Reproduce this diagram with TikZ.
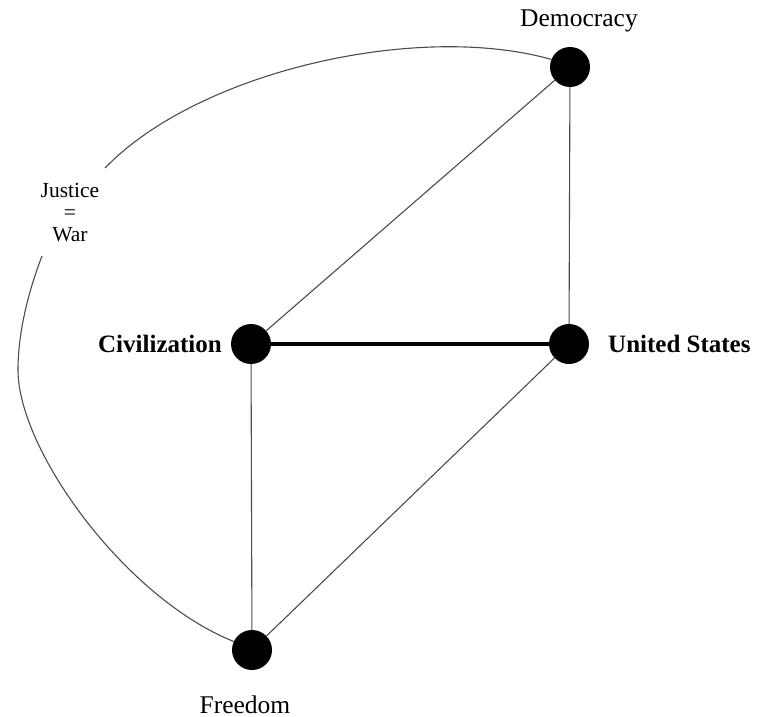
\documentclass[tikz,border=0pt]{standalone}
\usepackage{fontspec}
\setmainfont{Liberation Serif}
\begin{document}
\begin{tikzpicture}[x=1pt,y=-1pt,
  dot/.style={circle,fill=black,inner sep=0pt,minimum size=40pt},
  thin edge/.style={draw=black!70,line width=1.1pt},
  thick edge/.style={draw=black,line width=3.2pt},
  lbl/.style={inner sep=0pt,font=\fontsize{25.5}{28}\selectfont},
  blbl/.style={inner sep=0pt,font=\fontsize{25}{28}\bfseries\selectfont}]
\useasboundingbox (0,0) rectangle (761,717);
\node[dot] (dem) at (570,67) {};
\node[dot] (civ) at (251,344) {};
\node[dot] (us) at (569,344) {};
\node[dot] (fre) at (252,650) {};
\node[lbl,anchor=base] (demL) at (579,27) {Democracy};
\node[blbl,anchor=base east] (civL) at (222,352) {Civilization};
\node[blbl,anchor=base west] (usL) at (608,352) {United States};
\node[lbl,anchor=base] (freL) at (245,713) {Freedom};
\node[inner sep=0pt,align=center,font=\fontsize{21.5}{22}\selectfont] (jw) at (70,213) {Justice\\=\\War};
\coordinate (a1) at (105,168);
\coordinate (a2) at (42,256);
\coordinate (a3) at (18,370);
\draw[thin edge] (civ) -- (dem);
\draw[thin edge] (dem) -- (us);
\draw[thin edge] (civ) -- (fre);
\draw[thin edge] (us) -- (fre);
\draw[thick edge] (civ) -- (us);
\draw[thin edge] (dem.158) .. controls (420,22) and (200,70) .. (a1);
\draw[thin edge] (a2) .. controls (27,295) and (18,335) .. (a3)
  .. controls (18,450) and (125,598) .. (fre.155);
\end{tikzpicture}
\end{document}
